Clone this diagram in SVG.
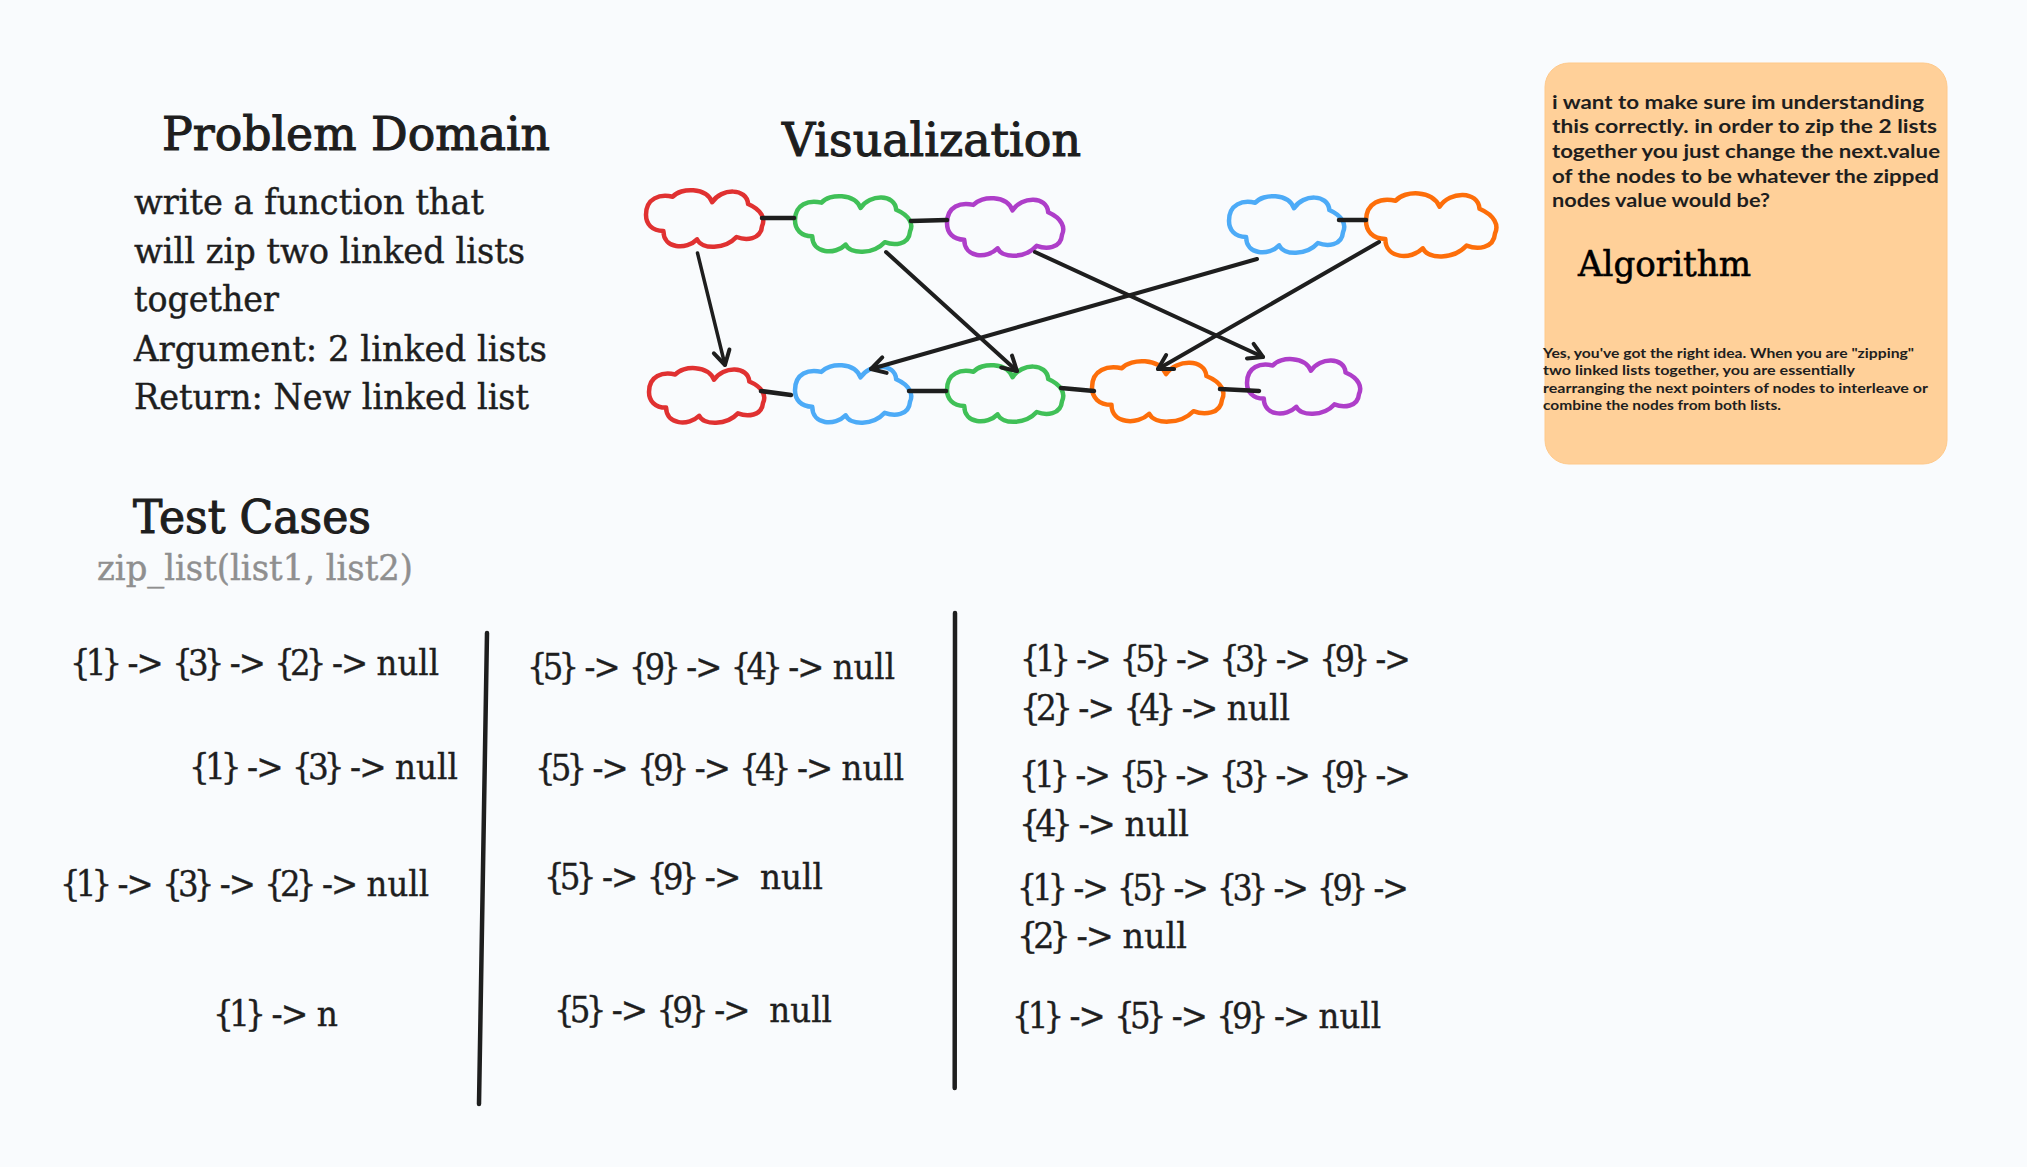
<svg xmlns="http://www.w3.org/2000/svg" width="2027" height="1167" viewBox="0 0 2027 1167">
<style>
text{white-space:pre}
.s{font-family:"DejaVu Serif","Liberation Serif",serif;fill:#1e1e1e;stroke:#1e1e1e}
.h{font-size:46px;stroke-width:1.100}
.b{font-size:36px;stroke-width:.45}
.t{font-size:36px;stroke-width:.4}
.k{letter-spacing:-.15em}
.r{letter-spacing:-.06em}
.w{font-family:"Lato","Noto Sans",sans-serif;fill:#1e1e1e;font-weight:700}
.w1{font-size:19px}
.w2{font-size:13px}
.c{fill:none;stroke-width:4.5;stroke-linejoin:round;vector-effect:non-scaling-stroke}
.red{stroke:#e03131}.green{stroke:#40c057}.purple{stroke:#ae3ec9}.blue{stroke:#4dabf7}.orange{stroke:#fd6e0a}
.l{stroke:#1e1e1e;stroke-width:4.500;stroke-linecap:round;fill:none}
.a{stroke:#1e1e1e;stroke-width:4;stroke-linecap:round;fill:none;marker-end:url(#ah)}
</style>
<defs>
<path id="cl" class="c" d="M0,43 C0,15 12,8 23,13 C30,-3 52,-3 57,22 C65,-2 87,-2 88,25 C100,35 103,50 100,62 C99,85 86,86 78,80 C68,101 48,101 44,84 C35,102 15,100 15,70 C5,70 0,58 0,43 Z"/>
<marker id="ah" markerUnits="userSpaceOnUse" viewBox="-24 -14 28 28" markerWidth="28" markerHeight="28" refX="0" refY="0" orient="auto" overflow="visible">
<path d="M-14,-8 L0,0 L-14,8" fill="none" stroke="#1e1e1e" stroke-width="4" stroke-linecap="round" stroke-linejoin="round"/>
</marker>
</defs>
<rect width="2027" height="1167" fill="#f9fbfd"/>

<g id="algorithm-box">
<rect x="1545" y="63" width="402" height="401" rx="24" fill="#ffd099" stroke="#ffc98a" stroke-width="1"/>
</g>

<g id="headings">
<text class="s h" x="162" y="150" textLength="388" lengthAdjust="spacingAndGlyphs">Problem Domain</text>
<text class="s h" x="782" y="156" textLength="299" lengthAdjust="spacingAndGlyphs">Visualization</text>
<text class="s h" x="133" y="533" textLength="238" lengthAdjust="spacingAndGlyphs">Test Cases</text>
<text class="s b" x="97" y="580" textLength="316" lengthAdjust="spacingAndGlyphs" style="fill:#8f8f8f;stroke:#8f8f8f">zip_list(list1, list2)</text>
</g>

<g id="problem-text">
<text class="s b" x="134" y="214" textLength="350" lengthAdjust="spacingAndGlyphs">write a function that</text>
<text class="s b" x="134" y="263" textLength="391" lengthAdjust="spacingAndGlyphs">will zip two linked lists</text>
<text class="s b" x="134" y="311" textLength="145" lengthAdjust="spacingAndGlyphs">together</text>
<text class="s b" x="134" y="361" textLength="413" lengthAdjust="spacingAndGlyphs">Argument: 2 linked lists</text>
<text class="s b" x="134" y="409" textLength="395" lengthAdjust="spacingAndGlyphs">Return: New linked list</text>
</g>

<g id="node-red-1"><use href="#cl" class="red" transform="translate(646,189) scale(1.16,.6)"/></g>
<g id="node-green-1"><use href="#cl" class="green" transform="translate(795,195) scale(1.15,.59)"/></g>
<g id="node-purple-1"><use href="#cl" class="purple" transform="translate(947,197) scale(1.15,.61)"/></g>
<g id="node-blue-1"><use href="#cl" class="blue" transform="translate(1229,195) scale(1.14,.6)"/></g>
<g id="node-orange-1"><use href="#cl" class="orange" transform="translate(1366,192) scale(1.29,.67)"/></g>
<g id="node-red-2"><use href="#cl" class="red" transform="translate(649,367) scale(1.14,.58)"/></g>
<g id="node-blue-2"><use href="#cl" class="blue" transform="translate(795,364) scale(1.15,.61)"/></g>
<g id="node-green-2"><use href="#cl" class="green" transform="translate(947,364) scale(1.15,.6)"/></g>
<g id="node-orange-2"><use href="#cl" class="orange" transform="translate(1092,360) scale(1.3,.64)"/></g>
<g id="node-purple-2"><use href="#cl" class="purple" transform="translate(1247,358) scale(1.12,.58)"/></g>

<g id="connectors">
<path class="l" d="M762,218 L794,218"/>
<path class="l" d="M911,221 L947,220"/>
<path class="l" d="M1339,220 L1366,220"/>
<path class="l" d="M761,391 L791,395"/>
<path class="l" d="M909,391 L946,391"/>
<path class="l" d="M1061,388 L1094,391"/>
<path class="l" d="M1220,389 L1259,391"/>
<path class="a" style="stroke-width:3.500" d="M697.500,253 L725,365"/>
<path class="a" d="M886,252 L1017,371"/>
<path class="a" d="M1035,252 L1263,357"/>
<path class="a" d="M1257,259 L871,369"/>
<path class="a" d="M1379,242 L1158,369"/>
<path class="l" d="M487,633 L479,1104"/>
<path class="l" d="M955,613 L954.700,1088"/>
</g>

<g id="test-cases">
<text class="s t" x="70" y="675" textLength="369" lengthAdjust="spacingAndGlyphs"><tspan class="k">{1}</tspan> <tspan class="r">-&gt;</tspan> <tspan class="k">{3}</tspan> <tspan class="r">-&gt;</tspan> <tspan class="k">{2}</tspan> <tspan class="r">-&gt;</tspan> null</text>
<text class="s t" x="189" y="779" textLength="269" lengthAdjust="spacingAndGlyphs"><tspan class="k">{1}</tspan> <tspan class="r">-&gt;</tspan> <tspan class="k">{3}</tspan> <tspan class="r">-&gt;</tspan> null</text>
<text class="s t" x="60" y="896" textLength="369" lengthAdjust="spacingAndGlyphs"><tspan class="k">{1}</tspan> <tspan class="r">-&gt;</tspan> <tspan class="k">{3}</tspan> <tspan class="r">-&gt;</tspan> <tspan class="k">{2}</tspan> <tspan class="r">-&gt;</tspan> null</text>
<text class="s t" x="213" y="1026" textLength="125" lengthAdjust="spacingAndGlyphs"><tspan class="k">{1}</tspan> <tspan class="r">-&gt;</tspan> n</text>
<text class="s t" x="527" y="679" textLength="368" lengthAdjust="spacingAndGlyphs"><tspan class="k">{5}</tspan> <tspan class="r">-&gt;</tspan> <tspan class="k">{9}</tspan> <tspan class="r">-&gt;</tspan> <tspan class="k">{4}</tspan> <tspan class="r">-&gt;</tspan> null</text>
<text class="s t" x="535" y="780" textLength="369" lengthAdjust="spacingAndGlyphs"><tspan class="k">{5}</tspan> <tspan class="r">-&gt;</tspan> <tspan class="k">{9}</tspan> <tspan class="r">-&gt;</tspan> <tspan class="k">{4}</tspan> <tspan class="r">-&gt;</tspan> null</text>
<text class="s t" x="544" y="889" textLength="279" lengthAdjust="spacingAndGlyphs"><tspan class="k">{5}</tspan> <tspan class="r">-&gt;</tspan> <tspan class="k">{9}</tspan> <tspan class="r">-&gt;</tspan>  null</text>
<text class="s t" x="554" y="1022" textLength="278" lengthAdjust="spacingAndGlyphs"><tspan class="k">{5}</tspan> <tspan class="r">-&gt;</tspan> <tspan class="k">{9}</tspan> <tspan class="r">-&gt;</tspan>  null</text>
<text class="s t" x="1020" y="671" textLength="389" lengthAdjust="spacingAndGlyphs"><tspan class="k">{1}</tspan> <tspan class="r">-&gt;</tspan> <tspan class="k">{5}</tspan> <tspan class="r">-&gt;</tspan> <tspan class="k">{3}</tspan> <tspan class="r">-&gt;</tspan> <tspan class="k">{9}</tspan> <tspan class="r">-&gt;</tspan></text>
<text class="s t" x="1020" y="720" textLength="270" lengthAdjust="spacingAndGlyphs"><tspan class="k">{2}</tspan> <tspan class="r">-&gt;</tspan> <tspan class="k">{4}</tspan> <tspan class="r">-&gt;</tspan> null</text>
<text class="s t" x="1019" y="787" textLength="390" lengthAdjust="spacingAndGlyphs"><tspan class="k">{1}</tspan> <tspan class="r">-&gt;</tspan> <tspan class="k">{5}</tspan> <tspan class="r">-&gt;</tspan> <tspan class="k">{3}</tspan> <tspan class="r">-&gt;</tspan> <tspan class="k">{9}</tspan> <tspan class="r">-&gt;</tspan></text>
<text class="s t" x="1019" y="836" textLength="170" lengthAdjust="spacingAndGlyphs"><tspan class="k">{4}</tspan> <tspan class="r">-&gt;</tspan> null</text>
<text class="s t" x="1017" y="900" textLength="390" lengthAdjust="spacingAndGlyphs"><tspan class="k">{1}</tspan> <tspan class="r">-&gt;</tspan> <tspan class="k">{5}</tspan> <tspan class="r">-&gt;</tspan> <tspan class="k">{3}</tspan> <tspan class="r">-&gt;</tspan> <tspan class="k">{9}</tspan> <tspan class="r">-&gt;</tspan></text>
<text class="s t" x="1017" y="948" textLength="170" lengthAdjust="spacingAndGlyphs"><tspan class="k">{2}</tspan> <tspan class="r">-&gt;</tspan> null</text>
<text class="s t" x="1012" y="1028" textLength="369" lengthAdjust="spacingAndGlyphs"><tspan class="k">{1}</tspan> <tspan class="r">-&gt;</tspan> <tspan class="k">{5}</tspan> <tspan class="r">-&gt;</tspan> <tspan class="k">{9}</tspan> <tspan class="r">-&gt;</tspan> null</text>
</g>

<g id="notes">
<text class="w w1" x="1552" y="109" textLength="372" lengthAdjust="spacingAndGlyphs">i want to make sure im understanding</text>
<text class="w w1" x="1552" y="133" textLength="385" lengthAdjust="spacingAndGlyphs">this correctly. in order to zip the 2 lists</text>
<text class="w w1" x="1552" y="158" textLength="388" lengthAdjust="spacingAndGlyphs">together you just change the next.value</text>
<text class="w w1" x="1552" y="183" textLength="387" lengthAdjust="spacingAndGlyphs">of the nodes to be whatever the zipped</text>
<text class="w w1" x="1552" y="207" textLength="218" lengthAdjust="spacingAndGlyphs">nodes value would be?</text>
<text class="s" x="1578" y="276" font-size="36" stroke-width=".6" textLength="173" lengthAdjust="spacingAndGlyphs" style="fill:#000;stroke:#000">Algorithm</text>
<text class="w w2" x="1543" y="358" textLength="371" lengthAdjust="spacingAndGlyphs">Yes, you've got the right idea. When you are "zipping"</text>
<text class="w w2" x="1543" y="375" textLength="312" lengthAdjust="spacingAndGlyphs">two linked lists together, you are essentially</text>
<text class="w w2" x="1543" y="393" textLength="385" lengthAdjust="spacingAndGlyphs">rearranging the next pointers of nodes to interleave or</text>
<text class="w w2" x="1543" y="410" textLength="238" lengthAdjust="spacingAndGlyphs">combine the nodes from both lists.</text>
</g>
</svg>
